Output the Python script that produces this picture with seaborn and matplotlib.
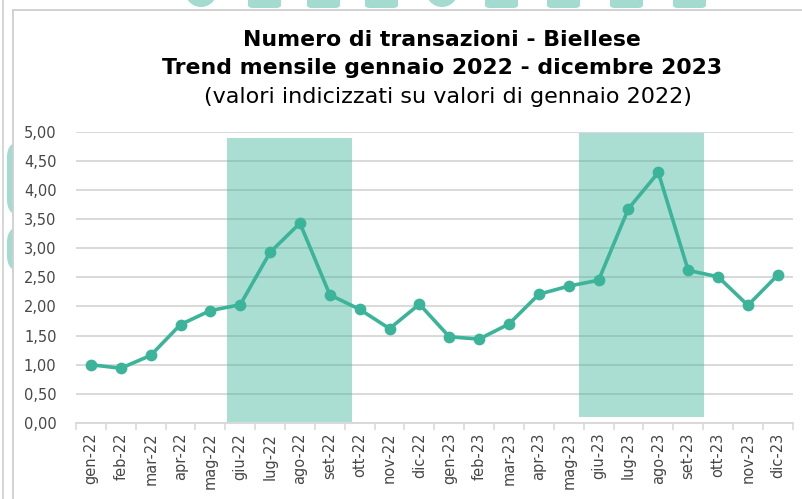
import matplotlib
matplotlib.use("Agg")
import matplotlib.pyplot as plt
import matplotlib.patches as mpatches
from matplotlib.ticker import FixedLocator, FuncFormatter
import numpy as np
import pandas as pd
import seaborn as sns

# ---- data -------------------------------------------------------------
mesi = ["gen-22", "feb-22", "mar-22", "apr-22", "mag-22", "giu-22",
        "lug-22", "ago-22", "set-22", "ott-22", "nov-22", "dic-22",
        "gen-23", "feb-23", "mar-23", "apr-23", "mag-23", "giu-23",
        "lug-23", "ago-23", "set-23", "ott-23", "nov-23", "dic-23"]
indice = [1.00, 0.94, 1.16, 1.69, 1.93, 2.03,
          2.93, 3.43, 2.20, 1.95, 1.62, 2.04,
          1.48, 1.44, 1.70, 2.21, 2.35, 2.45,
          3.68, 4.30, 2.62, 2.51, 2.02, 2.54]

# summer periods highlighted on the chart: (x start, x end, y bottom, y top)
estate_2022 = (4.56, 8.74, 0.00, 4.89)
estate_2023 = (16.35, 20.53, 0.10, 4.98)

titolo_1 = "Numero di transazioni - Biellese"
titolo_2 = "Trend mensile gennaio 2022 - dicembre 2023"
sottotitolo = "(valori indicizzati su valori di gennaio 2022)"

# ---- style ------------------------------------------------------------
sns.set_theme(style="white")
plt.rcParams["font.family"] = ["DejaVu Sans"]

VERDE = "#3cb49a"
GRIGIO = "#d9d9d9"
TESTO = "#474747"
DECOR = "#a3dbd1"
BORDO = "#cfcfcf"

W, H = 802, 499
fig = plt.figure(figsize=(W / 100, H / 100), dpi=100)


def px_box(x0, y0, x1, y1):
    """Pixel box (top-left origin) -> figure fractions (left, bottom, w, h)."""
    return x0 / W, 1 - y1 / H, (x1 - x0) / W, (y1 - y0) / H


# decorative background shapes
for bx in [248, 307, 365, 485, 547, 610, 673]:
    l, b, w, h = px_box(bx, -6, bx + 33, 8)
    fig.patches.append(mpatches.FancyBboxPatch((l, b), w, h, boxstyle="round,pad=0,rounding_size=0.006",
                                               transform=fig.transFigure, facecolor=DECOR,
                                               edgecolor="none", zorder=0))
for cx in [201, 442]:
    fig.patches.append(mpatches.Ellipse((cx / W, 1 - (-9) / H), 32 / W, 32 / H,
                                        transform=fig.transFigure, facecolor=DECOR,
                                        edgecolor="none", zorder=0))
for (y0, y1) in [(141, 216), (226, 272)]:
    l, b, w, h = px_box(7, y0, 30, y1)
    fig.patches.append(mpatches.FancyBboxPatch((l, b), w, h, boxstyle="round,pad=0,rounding_size=0.02",
                                               transform=fig.transFigure, facecolor=DECOR,
                                               edgecolor="none", zorder=0,
                                               mutation_aspect=W / H))

# white chart panel with its top and left border, plus the outer page rule
l, b, w, h = px_box(13, 9.5, W, H)
fig.patches.append(mpatches.Rectangle((l, b), w, h, transform=fig.transFigure,
                                      facecolor="white", edgecolor="none", zorder=2))
fig.add_artist(plt.Line2D([13 / W, 1], [1 - 9.5 / H, 1 - 9.5 / H], transform=fig.transFigure,
                          color=BORDO, lw=1.3, zorder=2.5))
fig.add_artist(plt.Line2D([13 / W, 13 / W], [0, 1 - 9.5 / H], transform=fig.transFigure,
                          color=BORDO, lw=1.3, zorder=2.5))
fig.add_artist(plt.Line2D([2.5 / W, 2.5 / W], [0, 1], transform=fig.transFigure,
                          color=BORDO, lw=1.2, zorder=1))

# ---- axes -------------------------------------------------------------
ax = fig.add_axes([76 / W, 1 - 423 / H, (792.7 - 76) / W, (423 - 131.7) / H], zorder=3)
ax.set_facecolor("none")

df = pd.DataFrame({"mese": mesi, "indice": indice})
sns.pointplot(data=df, x="mese", y="indice", color=VERDE, markers="o",
              linewidth=2.6, markersize=6.5, errorbar=None, ax=ax, zorder=4)

for (x0, x1, y0, y1) in (estate_2022, estate_2023):
    ax.add_patch(mpatches.Rectangle((x0, y0), x1 - x0, y1 - y0, facecolor=VERDE,
                                    alpha=0.43, edgecolor="none", zorder=2))

ax.set_xlim(-0.5, len(mesi) - 0.5)
ax.set_ylim(0, 5)
ax.set_yticks(np.arange(0, 5.01, 0.5))
ax.yaxis.set_major_formatter(FuncFormatter(lambda v, _: f"{v:.2f}".replace(".", ",")))
ax.grid(axis="y", color=GRIGIO, lw=1.4, zorder=1)
ax.set_axisbelow(True)

ax.set_xticks(range(len(mesi)))
ax.set_xticklabels(mesi, rotation=90)
ax.xaxis.set_minor_locator(FixedLocator(np.arange(-0.5, len(mesi), 1.0)))
ax.tick_params(axis="x", which="major", length=0, pad=7, labelsize=10.5, labelcolor=TESTO)
ax.tick_params(axis="x", which="minor", length=5, width=1.2, color=GRIGIO, bottom=True)
ax.tick_params(axis="y", length=0, pad=14, labelsize=10.5, labelcolor=TESTO)

for s in ["top", "right", "left"]:
    ax.spines[s].set_visible(False)
ax.spines["bottom"].set_color(GRIGIO)
ax.spines["bottom"].set_linewidth(1.4)
ax.set_xlabel("")
ax.set_ylabel("")

# ---- titles -------------------------------------------------------------
cx = 442 / W
fig.text(cx, 1 - 40 / H, titolo_1, ha="center", va="center", fontsize=15.8,
         fontweight="bold", color="black", zorder=5)
fig.text(cx, 1 - 68 / H, titolo_2, ha="center", va="center", fontsize=15.8,
         fontweight="bold", color="black", zorder=5)
fig.text(448 / W, 1 - 97 / H, sottotitolo, ha="center", va="center", fontsize=16,
         color="black", zorder=5)

fig.savefig("out.png", dpi=100)
